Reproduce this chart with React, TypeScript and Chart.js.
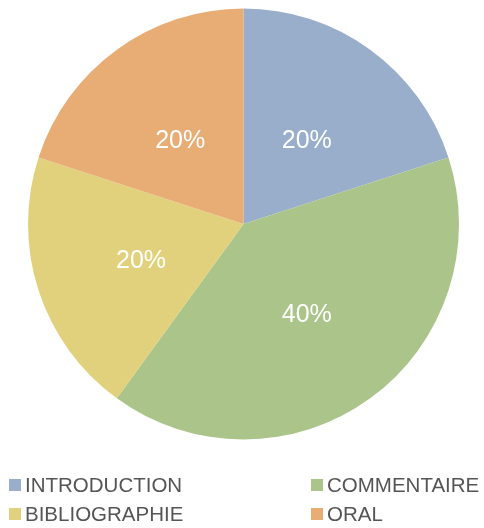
import React, { useEffect, useRef } from "react";
import { Chart, registerables } from "chart.js";

Chart.register(...registerables);

const categories = ["INTRODUCTION", "COMMENTAIRE", "BIBLIOGRAPHIE", "ORAL"];
const values = [20, 40, 20, 20];
const colors = ["#98AECA", "#ABC48A", "#E2D17C", "#E8AC75"];
const legendOrder = [0, 1, 2, 3];

const labelPlugin = {
  id: "sliceLabels",
  afterDatasetsDraw(chart: any) {
    const ctx = chart.ctx;
    const meta = chart.getDatasetMeta(0);
    const data = chart.data.datasets[0].data as number[];
    const total = data.reduce((a, b) => a + b, 0);
    ctx.save();
    ctx.fillStyle = "#ffffff";
    ctx.font = "25px 'Liberation Sans', Arial, sans-serif";
    ctx.textAlign = "center";
    ctx.textBaseline = "middle";
    meta.data.forEach((arc: any, i: number) => {
      const p = arc.getCenterPoint();
      const pct = Math.round((data[i] / total) * 100) + "%";
      ctx.fillText(pct, p.x, p.y + 4);
    });
    ctx.restore();
  },
};

const legendPlugin = {
  id: "gridLegend",
  afterDraw(chart: any) {
    const ctx = chart.ctx;
    const labels = chart.data.labels as string[];
    const bg = chart.data.datasets[0].backgroundColor as string[];
    const colX = [9, 311];
    const rowY = [485, 514];
    ctx.save();
    ctx.font = "20.5px 'Liberation Sans', Arial, sans-serif";
    ctx.textBaseline = "middle";
    ctx.textAlign = "left";
    legendOrder.forEach((idx, k) => {
      const col = k % 2;
      const row = Math.floor(k / 2);
      const x = colX[col];
      const y = rowY[row];
      ctx.fillStyle = bg[idx];
      ctx.fillRect(x, y - 6, 12, 12);
      ctx.fillStyle = "#555555";
      ctx.fillText(labels[idx], x + 16, y + 1);
    });
    ctx.restore();
  },
};

export default function App() {
  const ref = useRef<HTMLCanvasElement | null>(null);
  useEffect(() => {
    document.body.style.margin = "0";
    const chart = new Chart(ref.current as HTMLCanvasElement, {
      type: "pie",
      data: {
        labels: categories,
        datasets: [
          {
            data: values,
            backgroundColor: colors,
            borderWidth: 0,
          },
        ],
      },
      options: {
        animation: false,
        responsive: false,
        maintainAspectRatio: false,
        layout: { padding: { left: 28, right: 25, top: 8.5, bottom: 88.5 } },
        plugins: {
          legend: { display: false },
          tooltip: { enabled: false },
        },
      },
      plugins: [labelPlugin, legendPlugin],
    });
    return () => chart.destroy();
  }, []);
  return (
    <div style={{ position: "absolute", left: 0, top: 0, width: 484, height: 528, background: "#fff" }}>
      <canvas ref={ref} width={484} height={528} style={{ width: 484, height: 528, display: "block" }} />
    </div>
  );
}
